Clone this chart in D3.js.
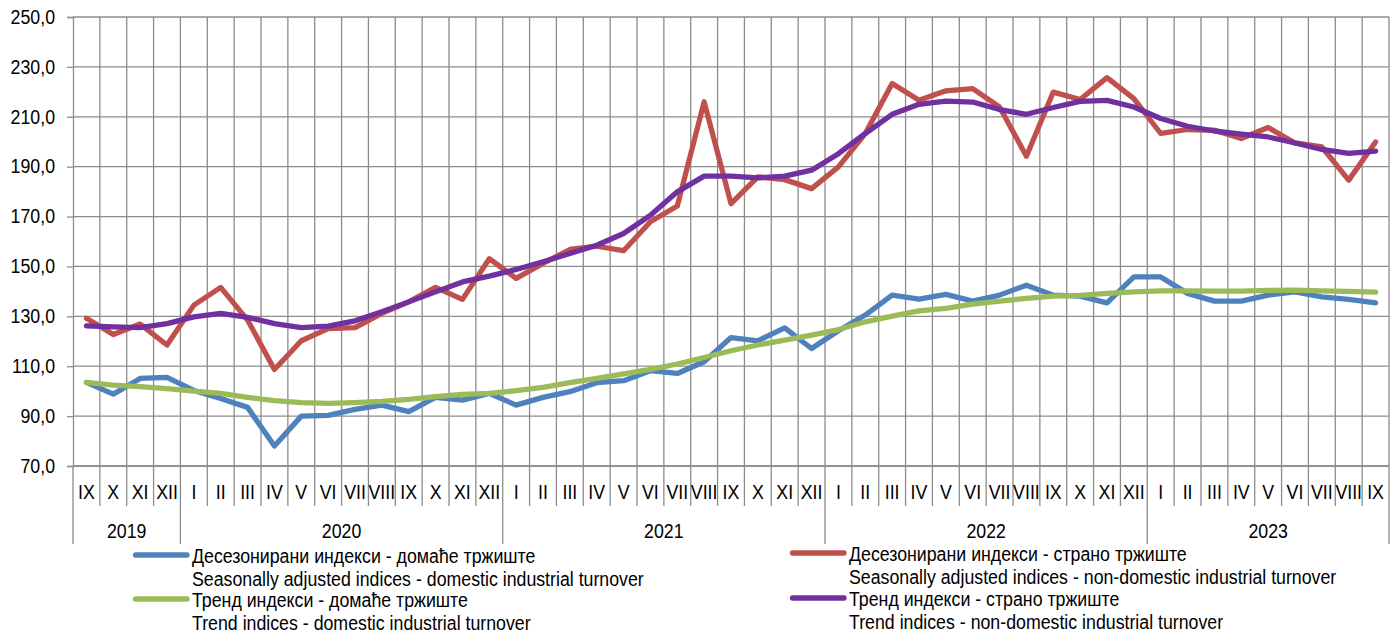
<!DOCTYPE html>
<html>
<head>
<meta charset="utf-8">
<script src="https://cdn.jsdelivr.net/npm/d3@7/dist/d3.min.js"></script>
<style>
  body { margin: 0; background: #fff; }
  text { font-family: "Liberation Sans", Arial, sans-serif; fill: #000; }
</style>
</head>
<body>
<div id="chart"></div>
<script>
// months from IX 2019 to IX 2023
var months = ["IX","X","XI","XII",
  "I","II","III","IV","V","VI","VII","VIII","IX","X","XI","XII",
  "I","II","III","IV","V","VI","VII","VIII","IX","X","XI","XII",
  "I","II","III","IV","V","VI","VII","VIII","IX","X","XI","XII",
  "I","II","III","IV","V","VI","VII","VIII","IX"];
var years = [
  {label: "2019", start: 0, count: 4},
  {label: "2020", start: 4, count: 12},
  {label: "2021", start: 16, count: 12},
  {label: "2022", start: 28, count: 12},
  {label: "2023", start: 40, count: 9}
];
var yTicks = [70, 90, 110, 130, 150, 170, 190, 210, 230, 250];

// seasonally adjusted - domestic
var saDomestic = [103.5, 98.8, 105.1, 105.5,
  100.3, 97.1, 93.5, 78.0, 90.0, 90.3, 92.7, 94.4, 91.8, 97.5, 96.4, 99.1,
  94.4, 97.5, 99.8, 103.4, 104.2, 108.2, 107.1, 111.8, 121.5, 120.2, 125.4, 117.1,
  124.2, 130.5, 138.5, 136.9, 138.8, 136.1, 138.5, 142.5, 138.5, 138.1, 135.4, 145.8,
  145.8, 139.2, 136.1, 136.1, 138.5, 139.8, 137.8, 136.8, 135.4];
// seasonally adjusted - non-domestic
var saForeign = [129.2, 122.7, 126.9, 118.5,
  134.5, 141.6, 128.5, 108.7, 120.2, 125.1, 125.5, 131.2, 135.8, 141.6, 136.8, 153.1,
  145.2, 151.2, 156.8, 158.1, 156.3, 167.9, 174.2, 216.0, 175.2, 185.9, 184.8, 181.2,
  189.9, 203.3, 223.3, 216.6, 220.4, 221.3, 213.9, 194.2, 219.9, 216.9, 225.7, 217.3,
  203.3, 204.9, 204.6, 201.3, 205.7, 199.5, 197.9, 184.6, 199.9];
// trend - domestic
var trDomestic = [103.5, 102.4, 101.8, 101.0,
  100.0, 99.1, 97.5, 96.2, 95.4, 95.1, 95.4, 95.9, 96.7, 97.8, 98.7, 99.1,
  100.2, 101.5, 103.4, 105.1, 106.9, 108.7, 110.9, 113.5, 116.2, 118.5, 120.5, 122.5,
  124.7, 127.8, 130.1, 132.2, 133.2, 134.9, 136.1, 137.2, 138.1, 138.4, 139.2, 139.8,
  140.2, 140.2, 140.1, 140.1, 140.4, 140.5, 140.2, 140.0, 139.7];
// trend - non-domestic
var trForeign = [126.2, 125.8, 125.5, 127.1,
  129.8, 131.2, 129.6, 127.1, 125.5, 126.1, 128.2, 131.8, 135.8, 139.8, 143.8, 146.1,
  148.8, 151.9, 155.2, 158.5, 163.2, 170.5, 179.9, 186.2, 186.2, 185.5, 186.2, 188.6,
  195.2, 203.3, 211.0, 215.0, 216.3, 215.9, 212.9, 211.0, 213.7, 216.2, 216.6, 213.9,
  209.3, 206.2, 204.3, 203.0, 201.9, 199.5, 196.9, 195.3, 196.2];

var seriesList = [
  {values: saDomestic, color: "#4f81bd", name: "Десезонирани индекси - домаће тржиште", en: "Seasonally adjusted indices - domestic industrial turnover"},
  {values: saForeign, color: "#c0504d", name: "Десезонирани индекси - страно тржиште", en: "Seasonally adjusted indices - non-domestic industrial turnover"},
  {values: trDomestic, color: "#9bbb59", name: "Тренд индекси - домаће тржиште", en: "Trend indices - domestic industrial turnover"},
  {values: trForeign, color: "#7030a0", name: "Тренд индекси - страно тржиште", en: "Trend indices - non-domestic industrial turnover"}
];

var w = 1397, h = 637;
var padL = 73, padR = 1389, padT = 17, padB = 466;
var gridColor = "#8c8c8c";
var narrow = 0.91; // text in the original is slightly condensed

var svg = d3.select("#chart").append("svg").attr("width", w).attr("height", h);

var xScale = d3.scaleBand().domain(d3.range(months.length)).range([padL, padR]).paddingInner(0).paddingOuter(0);
var yScale = d3.scaleLinear().domain([70, 250]).range([padB, padT]);
var bw = xScale.bandwidth();

// horizontal gridlines
svg.append("g").selectAll("line").data(yTicks).enter().append("line")
  .attr("x1", padL).attr("x2", padR)
  .attr("y1", function(d) { return yScale(d); })
  .attr("y2", function(d) { return yScale(d); })
  .attr("stroke", gridColor).attr("stroke-width", 1.3);

// vertical gridlines at category boundaries
svg.append("g").selectAll("line").data(d3.range(1, months.length + 1)).enter().append("line")
  .attr("x1", function(d) { return padL + d * bw; })
  .attr("x2", function(d) { return padL + d * bw; })
  .attr("y1", padT).attr("y2", padB)
  .attr("stroke", gridColor).attr("stroke-width", 1.3);

// y axis
var yAxis = d3.axisLeft(yScale).tickValues(yTicks).tickSize(6).tickPadding(12)
  .tickFormat(function(d) { return d3.format(".1f")(d).replace(".", ","); });
var yg = svg.append("g").attr("transform", "translate(" + padL + ",0)").call(yAxis);
yg.select(".domain").attr("stroke", gridColor).attr("stroke-width", 1.3);
yg.selectAll(".tick line").attr("stroke", gridColor).attr("stroke-width", 1.3);
yg.selectAll(".tick text").attr("font-size", "19.5px")
  .style("font-family", "'Liberation Sans', Arial, sans-serif")
  .attr("fill", "#000");

// x axis baseline
svg.append("line").attr("x1", padL).attr("x2", padR).attr("y1", padB).attr("y2", padB)
  .attr("stroke", gridColor).attr("stroke-width", 1.3);

// month separators and labels
svg.append("g").selectAll("line").data(d3.range(0, months.length + 1)).enter().append("line")
  .attr("x1", function(d) { return padL + d * bw; })
  .attr("x2", function(d) { return padL + d * bw; })
  .attr("y1", padB)
  .attr("y2", function(d) {
    var isYear = d === months.length || years.some(function(y) { return y.start === d; });
    return isYear ? 544 : 506;
  })
  .attr("stroke", gridColor).attr("stroke-width", 1.3);

svg.append("g").selectAll("text").data(months).enter().append("text")
  .attr("x", function(d, i) { return xScale(i) + bw / 2; })
  .attr("y", 499)
  .attr("text-anchor", "middle")
  .attr("font-size", "19.5px")
  .text(function(d) { return d; });

svg.append("g").selectAll("text").data(years).enter().append("text")
  .attr("x", function(d) { return padL + (d.start + d.count / 2) * bw; })
  .attr("y", 538)
  .attr("text-anchor", "middle")
  .attr("font-size", "19.5px")
  .text(function(d) { return d.label; });

// lines
var line = d3.line()
  .x(function(d, i) { return xScale(i) + bw / 2; })
  .y(function(d) { return yScale(d); });

seriesList.forEach(function(s) {
  svg.append("path").datum(s.values)
    .attr("fill", "none")
    .attr("stroke", s.color)
    .attr("stroke-width", 5.3)
    .attr("stroke-linejoin", "round")
    .attr("stroke-linecap", "round")
    .attr("d", line);
});

// legend
var legPos = [
  {x: 133, y: 555}, {x: 790, y: 553},
  {x: 133, y: 599}, {x: 790, y: 598}
];
seriesList.forEach(function(s, i) {
  var p = legPos[i];
  var g = svg.append("g").attr("transform", "translate(" + p.x + "," + p.y + ")");
  g.append("line").attr("x1", 2.5).attr("x2", 54).attr("y1", 0).attr("y2", 0)
    .attr("stroke", s.color).attr("stroke-width", 5.3).attr("stroke-linecap", "round");
  g.append("text").attr("x", 59).attr("y", 8).attr("font-size", "19.5px").text(s.name);
  g.append("text").attr("x", 59).attr("y", 31).attr("font-size", "19.5px").text(s.en);
});

// condense every label a little, like the narrow font of the original
svg.selectAll("text").each(function() {
  var len = this.getComputedTextLength();
  d3.select(this).attr("textLength", len * narrow).attr("lengthAdjust", "spacingAndGlyphs");
});
</script>
</body>
</html>
